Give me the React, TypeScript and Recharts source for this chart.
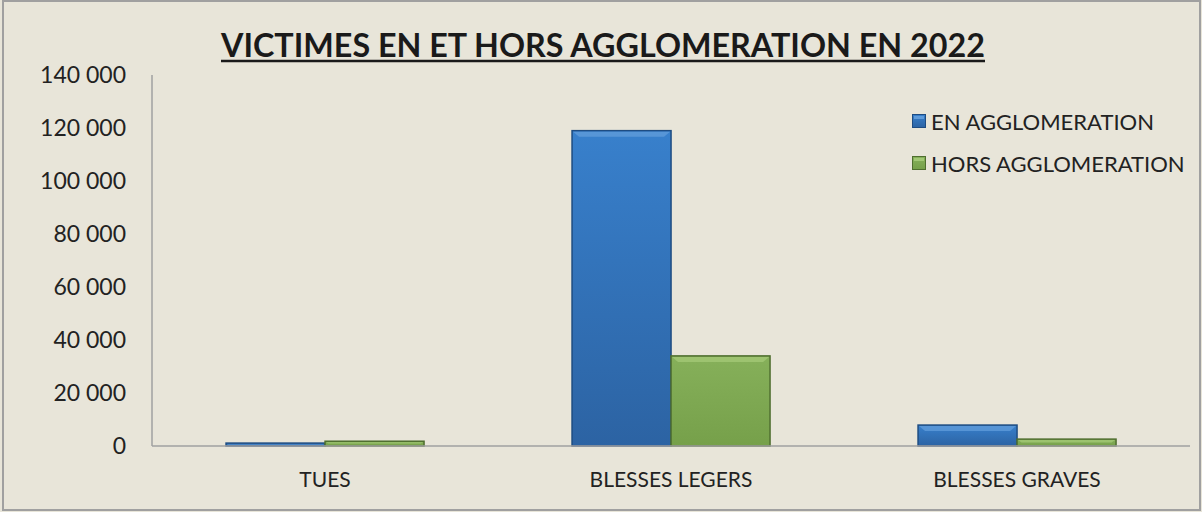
import React from 'react';
import { BarChart, Bar, XAxis, YAxis, Legend } from 'recharts';

const categories = ['TUES', 'BLESSES LEGERS', 'BLESSES GRAVES'];
const enAgglo = [1100, 119000, 7900];
const horsAgglo = [1800, 34000, 2600];
const yTicks = [0, 20000, 40000, 60000, 80000, 100000, 120000, 140000];

const data = categories.map((name, i) => ({
  name,
  en: enAgglo[i],
  hors: horsAgglo[i],
}));

const FONT = 'Lato, "Open Sans", sans-serif';
const BG = '#E8E5D9';

const fmt = (v: number) => String(v).replace(/\B(?=(\d{3})+(?!\d))/g, ' ');

const BevelBar = (props: any) => {
  const { x, y, width, height, fill } = props;
  if (!height || height <= 0) return null;
  const blue = fill === 'blue';
  const id = blue ? 'gBlue' : 'gGreen';
  const border = blue ? '#1E4C82' : '#4F6E2F';
  const light = blue ? '#5F9BDA' : '#A2C875';
  const bev = Math.min(6, height / 2);
  return (
    <g>
      <rect x={x} y={y} width={width} height={height} fill={`url(#${id})`} stroke={border} strokeWidth={1.5} />
      <polygon
        points={`${x + 1},${y + 1} ${x + width - 1},${y + 1} ${x + width - 1 - bev},${y + bev} ${x + 1 + bev},${y + bev}`}
        fill={light}
        opacity={0.8}
      />
    </g>
  );
};

const LegendBox = ({ payload }: any) => (
  <div style={{ fontFamily: FONT, fontSize: 22, color: '#222' }}>
    {(payload || []).map((p: any) => (
      <div key={p.value} style={{ display: 'flex', alignItems: 'center', height: 42 }}>
        <svg width={14} height={14} style={{ marginRight: 5 }}>
          <rect x={0.5} y={0.5} width={13} height={13} fill={p.dataKey === 'en' ? 'url(#gBlue)' : 'url(#gGreen)'}
            stroke={p.dataKey === 'en' ? '#1E4C82' : '#4F6E2F'} />
          <rect x={2} y={2} width={10} height={3} fill={p.dataKey === 'en' ? '#5F9BDA' : '#A2C875'} />
        </svg>
        <span>{p.value}</span>
      </div>
    ))}
  </div>
);

export default function App() {
  return (
    <div style={{ position: 'absolute', left: 0, top: 0, width: 1202, height: 512, background: BG }}>
      <svg width={0} height={0} style={{ position: 'absolute' }}>
        <defs>
          <linearGradient id="gBlue" x1="0" y1="0" x2="0" y2="1">
            <stop offset="0%" stopColor="#3880CC" />
            <stop offset="100%" stopColor="#2C63A3" />
          </linearGradient>
          <linearGradient id="gGreen" x1="0" y1="0" x2="0" y2="1">
            <stop offset="0%" stopColor="#86B05A" />
            <stop offset="100%" stopColor="#76A04A" />
          </linearGradient>
        </defs>
      </svg>
      <BarChart
        width={1202}
        height={512}
        data={data}
        margin={{ top: 75, right: 12, left: 0, bottom: 36 }}
        barCategoryGap="21.4%"
        barGap={0}
      >
        <XAxis
          dataKey="name"
          height={30}
          tickSize={0}
          tickMargin={26}
          stroke="#A0A0A0"
          strokeWidth={1.5}
          tick={{ fill: '#222', fontFamily: FONT, fontSize: 21 }}
        />
        <YAxis
          width={152}
          domain={[0, 140000]}
          ticks={yTicks}
          tickFormatter={fmt}
          tickSize={0}
          tickMargin={26}
          stroke="#A0A0A0"
          strokeWidth={1.5}
          interval={0}
          tick={{ fill: '#222', fontFamily: FONT, fontSize: 23 }}
        />
        <Legend
          layout="horizontal"
          align="center"
          verticalAlign="middle"
          content={<LegendBox />}
          wrapperStyle={{ position: 'absolute', left: 912, top: 100, width: 290, height: 84 }}
        />
        <Bar dataKey="en" name="EN AGGLOMERATION" fill="blue" shape={<BevelBar />} isAnimationActive={false} />
        <Bar dataKey="hors" name="HORS AGGLOMERATION" fill="green" shape={<BevelBar />} isAnimationActive={false} />
      </BarChart>
      <svg width={1202} height={512} style={{ position: 'absolute', left: 0, top: 0, pointerEvents: 'none' }}>
        <rect x={3} y={1} width={1197} height={509} fill="none" stroke="#A0A0A0" strokeWidth={2} />
        <text
          x={603}
          y={57}
          textAnchor="middle"
          fontFamily={FONT}
          fontWeight={700}
          fontSize={33}
          fill="#1A1A1A"
          textLength={764}
          lengthAdjust="spacingAndGlyphs"
        >
          VICTIMES EN ET HORS AGGLOMERATION EN 2022
        </text>
        <line x1={221} x2={985} y1={61} y2={61} stroke="#1A1A1A" strokeWidth={2.5} />
      </svg>
    </div>
  );
}
